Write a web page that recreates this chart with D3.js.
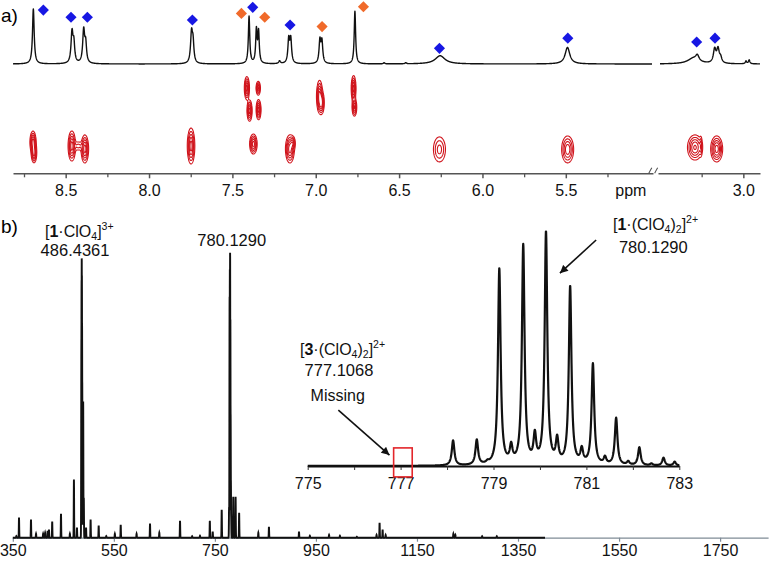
<!DOCTYPE html>
<html><head><meta charset="utf-8">
<script src="https://cdn.jsdelivr.net/npm/d3@7"></script>
<style>
html,body{margin:0;padding:0;background:#fff;}
svg{display:block;font-family:"Liberation Sans",Arial,Helvetica,sans-serif;}
</style></head><body>
<svg id="chart" width="784" height="565"></svg>
<script>
// ================= DATA =================
// (a) 1H NMR peaks: [ppm, relative height, half-width at half-height (ppm)]
const nmrPeaks = [
  [8.694, 1.00, 0.006],
  [8.462, 0.56, 0.007], [8.451, 0.33, 0.006],
  [8.392, 0.60, 0.007], [8.380, 0.33, 0.006],
  [7.745, 0.55, 0.007], [7.736, 0.33, 0.006],
  [7.400, 0.86, 0.005],
  [7.356, 0.60, 0.005], [7.343, 0.56, 0.005],
  [7.217, 0.05, 0.006],
  [7.162, 0.43, 0.006], [7.150, 0.43, 0.006],
  [6.975, 0.41, 0.006], [6.963, 0.39, 0.006],
  [6.765, 0.96, 0.005],
  [6.590, 0.02, 0.005], [6.460, 0.02, 0.005],
  [6.254, 0.15, 0.035],
  [5.490, 0.30, 0.017],
  [3.300, 0.10, 0.040], [3.276, 0.10, 0.012],
  [3.172, 0.25, 0.009], [3.152, 0.25, 0.009], [3.136, 0.09, 0.008],
  [2.984, 0.05, 0.005], [2.965, 0.07, 0.005]
];
// peak markers: ppm, level (relative height), species
const markerPpm     = [8.634, 8.468, 8.370, 7.740, 7.446, 7.378, 7.306, 7.154, 6.962, 6.714, 6.258, 5.488, 3.280, 3.170];
const markerLevel   = [0.98, 0.85, 0.85, 0.80, 0.92, 1.03, 0.85, 0.71, 0.68, 1.04, 0.285, 0.47, 0.40, 0.47];
const markerSpecies = ["B","B","B","B","O","B","O","B","O","O","B","B","B","B"];
// 2D (DOSY) cross peaks: [ppm, diffusion row, sigma ppm, sigma row, amplitude]
const dosyBlobs = [
  [7.413, 0.83, 0.0075, 0.115, 1.0], [7.397, 1.29, 0.0075, 0.105, 1.0],
  [7.345, 0.83, 0.0065, 0.070, 0.9], [7.343, 1.27, 0.0072, 0.100, 1.0],
  [6.977, 1.00, 0.0090, 0.160, 1.0], [6.965, 1.13, 0.0080, 0.110, 0.9],
  [6.773, 0.84, 0.0070, 0.130, 1.0], [6.768, 1.22, 0.0070, 0.090, 0.9],
  [8.696, 1.93, 0.0090, 0.109, 1.0], [8.690, 2.15, 0.0080, 0.099, 1.0],
  [8.463, 2.01, 0.0110, 0.149, 1.0], [8.385, 2.07, 0.0110, 0.139, 1.0],
  [8.424, 2.01, 0.0150, 0.060, 0.3],
  [7.748, 2.01, 0.0110, 0.178, 1.0],
  [7.374, 1.97, 0.0110, 0.099, 1.0],
  [7.155, 2.07, 0.0130, 0.139, 1.0], [7.138, 1.95, 0.0080, 0.070, 0.6],
  [6.258, 2.08, 0.0213, 0.151, 0.5],
  [5.489, 2.08, 0.0185, 0.141, 0.8],
  [3.290, 2.04, 0.0225, 0.128, 0.9], [3.255, 2.01, 0.0040, 0.105, 0.4],
  [3.160, 2.07, 0.0175, 0.129, 1.0]
];
const dosyLevels = [0.12, 0.25, 0.42, 0.62, 0.85];
const nmrMajorA = [8.5, 8.0, 7.5, 7.0, 6.5, 6.0, 5.5];
const nmrMinorA = [8.75, 8.25, 7.75, 7.25, 6.75, 6.25, 5.75, 5.25];
const nmrMajorB = [3.0];
const nmrMinorB = [3.25];

// (b) ESI-MS: [m/z, relative intensity %]
const msPeaks = [
  [357, 0.6], [362.3, 7.0], [386, 6.3], [396, 1.4], [410, 1.4], [414, 1.7], [419, 2.4], [421.6, 2.8],
  [428, 5.6], [445.4, 8.4], [463, 1.4], [471, 20.3], [477, 3.5],
  [485.77, 70], [486.10, 90], [486.44, 98.3], [486.77, 92], [487.10, 75], [487.44, 55], [487.77, 40],
  [489.3, 47.6], [490.5, 14], [495, 3.5], [504, 6.3], [520, 4.2], [535, 0.6], [552, 1.4], [563.6, 4.5],
  [595, 1.4], [621.6, 4.9], [640, 1.7], [681, 5.9], [705, 0.5], [720.5, 0.7], [740, 5.9], [745.7, 2.1],
  [763.5, 9.8], [778.13, 10.8], [778.64, 10.8], [779.125, 84.5], [779.64, 94.4], [780.13, 100],
  [780.65, 76.7], [781.14, 43.5], [781.64, 20.3], [782.14, 7.8],
  [786.4, 14.3], [791, 14.3], [798, 8.7], [836, 1.7], [857, 3.8], [916.5, 2.1], [938, 0.7],
  [976, 1.0], [997.5, 0.7], [1031, 0.35], [1070, 1.0], [1076, 5.2], [1082, 2.8], [1088, 1.0],
  [1222, 1.4], [1226, 1.0], [1279, 0.5], [1308, 0.5]
];
const msRange = [350, 1403.5];
const msTicks = [350, 550, 750, 950, 1150, 1350, 1550, 1750];
// inset: isotope pattern of [1·(ClO4)2]2+ : [m/z, relative intensity %]
const insetPeaks = [
  [778.13, 10.8], [778.64, 10.8], [778.87, 0.8], [779.125, 84.5], [779.38, 7], [779.64, 94.4],
  [779.89, 11.5], [780.13, 100], [780.37, 10], [780.65, 76.7], [780.90, 6], [781.14, 43.5],
  [781.40, 3], [781.64, 20.3], [781.90, 1.5], [782.14, 7.8], [782.40, 0.8], [782.66, 3.4], [782.90, 1.7]
];
const insetTicks = [775, 776, 777, 778, 779, 780, 781, 782, 783];
const insetLabels = [775, 777, 779, 781, 783];
const missingBox = {mz: [776.85, 777.25], inten: [-4.7, 7.8]};
const arrowInset = {from: [781.21, 97.4], to: [780.43, 83.1]};
const arrowMissing = {from: [775.66, 24.1], to: [776.76, 4.7]};

// ================= DRAWING =================
const FONT = '"Liberation Sans", Arial, Helvetica, sans-serif';
const svg = d3.select("#chart");
const BLUE = "#1717e3", ORANGE = "#f06a2a", RED = "#d0141c";

// ---- scales ----
const xA = d3.scaleLinear().domain([8.816, 4.977]).range([13, 653]);
const xB = d3.scaleLinear().domain([3.512, 2.900]).range([658, 760]);
const xN = p => p > 4 ? xA(p) : xB(p);
const yN = d3.scaleLinear().domain([0, 1]).range([64, 9]);
const yD = d3.scaleLinear().domain([0.5, 2.5]).range([72, 170]);
const nmrAxisY = 173.3;

const xM = d3.scaleLinear().domain([350, 1845]).range([12.8, 768.1]);
const yM = d3.scaleLinear().domain([0, 100]).range([537.7, 251.7]);
const xI = d3.scaleLinear().domain([775, 783]).range([307.7, 679.3]);
const yI = d3.scaleLinear().domain([0, 100]).range([466, 234]);

// ---- panel labels ----
svg.append("text").attr("x", 1).attr("y", 22).attr("font-size", 19).text("a)");
svg.append("text").attr("x", 1).attr("y", 233).attr("font-size", 19).text("b)");

function styleAxis(g, color, width, fs) {
  g.selectAll("path,line").attr("stroke", color).attr("stroke-width", width);
  g.selectAll("text").attr("font-size", fs).attr("font-family", FONT).attr("fill", "#111");
}

// ---- NMR axis ----
const gA = svg.append("g").attr("transform", `translate(0,${nmrAxisY})`)
  .call(d3.axisBottom(xA).tickValues(nmrMajorA).tickFormat(d3.format(".1f")).tickSize(5).tickSizeOuter(0).tickPadding(6));
styleAxis(gA, "#555", 1.5, 16);
const gAm = svg.append("g").attr("transform", `translate(0,${nmrAxisY})`)
  .call(d3.axisBottom(xA).tickValues(nmrMinorA).tickFormat("").tickSize(4).tickSizeOuter(0));
gAm.select(".domain").remove(); styleAxis(gAm, "#555", 1.3, 16);
const gB = svg.append("g").attr("transform", `translate(0,${nmrAxisY})`)
  .call(d3.axisBottom(xB).tickValues(nmrMajorB).tickFormat(d3.format(".1f")).tickSize(5).tickSizeOuter(0).tickPadding(6));
styleAxis(gB, "#555", 1.5, 16);
const gBm = svg.append("g").attr("transform", `translate(0,${nmrAxisY})`)
  .call(d3.axisBottom(xB).tickValues(nmrMinorB).tickFormat("").tickSize(4).tickSizeOuter(0));
gBm.select(".domain").remove(); styleAxis(gBm, "#555", 1.3, 16);
svg.append("text").attr("x", xA(5.11)).attr("y", 196).attr("text-anchor", "middle")
  .attr("font-size", 16).attr("fill", "#111").text("ppm");
// axis break marks
[xA(4.99), xB(3.52)].forEach(bx => {
  svg.append("path").attr("d", `M${bx - 2},${nmrAxisY} q1.5,-3 3,-5.5`).attr("fill", "none")
    .attr("stroke", "#555").attr("stroke-width", 1.1);
});

// ---- 1D NMR spectrum ----
function nmrI(p) { let s = 0; for (const [c, h, g] of nmrPeaks) { const d = (p - c) / g; s += h / (1 + d * d); } return s; }
const nmrLine = d3.line().x(p => xN(p)).y(p => yN(nmrI(p)));
[d3.range(4.983, 8.816, 0.001), d3.range(2.900, 3.500, 0.001)].forEach(seg => {
  svg.append("path").attr("d", nmrLine(seg.reverse())).attr("fill", "none")
    .attr("stroke", "#111").attr("stroke-width", 1.4).attr("stroke-linejoin", "round");
});
// markers
const sym = d3.symbol().type(d3.symbolSquare).size(62);
svg.append("g").selectAll("path").data(markerPpm).join("path")
  .attr("d", sym)
  .attr("transform", (p, i) => `translate(${xN(p)},${yN(markerLevel[i])}) rotate(45)`)
  .attr("fill", (p, i) => markerSpecies[i] === "B" ? BLUE : ORANGE);

// ---- 2D DOSY contours ----
const res = 2, gx0 = 8, gx1 = 766, gy0 = 62, gy1 = 172;
const gw = (gx1 - gx0) * res, gh = (gy1 - gy0) * res;
const grid = new Float64Array(gw * gh);
dosyBlobs.forEach(([p, r, sp, sr, amp]) => {
  const cx = xN(p), cy = yD(r);
  const sx = Math.abs(xN(p + sp) - cx), sy = Math.abs(yD(r + sr) - cy);
  const i0 = Math.max(0, Math.floor((cx - 4 * sx - gx0) * res)), i1 = Math.min(gw - 1, Math.ceil((cx + 4 * sx - gx0) * res));
  const j0 = Math.max(0, Math.floor((cy - 4 * sy - gy0) * res)), j1 = Math.min(gh - 1, Math.ceil((cy + 4 * sy - gy0) * res));
  for (let j = j0; j <= j1; j++) {
    const py = gy0 + (j + 0.5) / res, dy = (py - cy) / sy;
    for (let i = i0; i <= i1; i++) {
      const px = gx0 + (i + 0.5) / res, dx = (px - cx) / sx;
      grid[j * gw + i] += amp * Math.exp(-0.5 * (dx * dx + dy * dy));
    }
  }
});
const contours = d3.contours().size([gw, gh]).thresholds(dosyLevels)(grid);
const gridProj = d3.geoTransform({ point(x, y) { this.stream.point(gx0 + x / res, gy0 + y / res); } });
svg.append("g").selectAll("path").data(contours).join("path")
  .attr("d", d3.geoPath(gridProj)).attr("fill", "none").attr("stroke", RED).attr("stroke-width", 1.1);

// ---- MS main axis ----
const gM = svg.append("g").attr("transform", `translate(0,${yM(0)})`)
  .call(d3.axisBottom(xM).tickValues(msTicks).tickFormat(d3.format("d")).tickSize(4).tickSizeOuter(0).tickPadding(3));
styleAxis(gM, "#7f8b96", 1.2, 16);

// ---- MS spectrum ----
const msSig = 0.35;
function msI(m) { let s = 0; for (const [c, h] of msPeaks) { const d = (m - c) / msSig; if (Math.abs(d) < 6) s = Math.max(s, h * Math.exp(-0.5 * d * d)); } return s; }
const msLine = d3.line().x(m => xM(m)).y(m => yM(msI(m)));
svg.append("path").attr("d", msLine(d3.range(msRange[0], msRange[1], 0.1)))
  .attr("fill", "none").attr("stroke", "#111").attr("stroke-width", 1.9).attr("stroke-linejoin", "miter");

// ---- inset axis ----
const gI = svg.append("g").attr("transform", `translate(0,${yI(0)})`)
  .call(d3.axisBottom(xI).tickValues(insetTicks).tickFormat(d => insetLabels.includes(d) ? d : "").tickSize(4).tickSizeOuter(0).tickPadding(8));
styleAxis(gI, "#111", 1.8, 16);
gI.selectAll(".tick line").attr("stroke-width", 1).attr("stroke", "#333");

// ---- inset spectrum ----
const insetG = 0.034;
function inI(m) { let s = 0; for (const [c, h] of insetPeaks) { const d = (m - c) / insetG; s += h / (1 + d * d); } return s; }
const inLine = d3.line().x(m => xI(m)).y(m => yI(inI(m)));
svg.append("path").attr("d", inLine(d3.range(775, 783.0001, 0.004)))
  .attr("fill", "none").attr("stroke", "#111").attr("stroke-width", 2.2).attr("stroke-linejoin", "round");

// missing box
svg.append("rect")
  .attr("x", xI(missingBox.mz[0])).attr("width", xI(missingBox.mz[1]) - xI(missingBox.mz[0]))
  .attr("y", yI(missingBox.inten[1])).attr("height", yI(missingBox.inten[0]) - yI(missingBox.inten[1]))
  .attr("fill", "none").attr("stroke", "#e3262b").attr("stroke-width", 1.6);

// arrows
const defs = svg.append("defs");
defs.append("marker").attr("id", "ah").attr("viewBox", "0 0 10 10").attr("refX", 10).attr("refY", 5)
  .attr("markerWidth", 9).attr("markerHeight", 8).attr("markerUnits", "userSpaceOnUse").attr("orient", "auto")
  .append("path").attr("d", "M0,0L10,5L0,10z").attr("fill", "#111");
[arrowInset, arrowMissing].forEach(a => {
  svg.append("line")
    .attr("x1", xI(a.from[0])).attr("y1", yI(a.from[1]))
    .attr("x2", xI(a.to[0])).attr("y2", yI(a.to[1]))
    .attr("stroke", "#111").attr("stroke-width", 1.6).attr("marker-end", "url(#ah)");
});

// ---- text annotations ----
function rich(x, y, parts, anchor, size) {
  const t = svg.append("text").attr("x", x).attr("y", y).attr("font-size", size)
    .attr("text-anchor", anchor).attr("fill", "#111");
  let shift = 0;
  parts.forEach(p => {
    const target = p.sub ? 2.5 : p.sup ? -7 : 0;
    const ts = t.append("tspan").text(p.t).attr("dy", target - shift);
    shift = target;
    if (p.sub || p.sup) ts.attr("font-size", size * 0.66);
    if (p.bold) ts.attr("font-weight", "bold");
  });
  return t;
}
rich(45, 237, [{t: "["}, {t: "1", bold: true}, {t: "·ClO"}, {t: "4", sub: true}, {t: "]"}, {t: "3+", sup: true}], "start", 16);
svg.append("text").attr("x", xM(486.4361) - 6.7).attr("y", 256).attr("text-anchor", "middle")
  .attr("font-size", 16.5).attr("fill", "#111").text("486.4361");
svg.append("text").attr("x", xM(780.129) + 1.6).attr("y", 246).attr("text-anchor", "middle")
  .attr("font-size", 16.5).attr("fill", "#111").text("780.1290");
rich(613, 230, [{t: "["}, {t: "1", bold: true}, {t: "·(ClO"}, {t: "4", sub: true}, {t: ")"}, {t: "2", sub: true}, {t: "]"}, {t: "2+", sup: true}], "start", 16);
svg.append("text").attr("x", 653.3).attr("y", 253).attr("text-anchor", "middle")
  .attr("font-size", 16.5).attr("fill", "#111").text("780.1290");
rich(300, 355, [{t: "["}, {t: "3", bold: true}, {t: "·(ClO"}, {t: "4", sub: true}, {t: ")"}, {t: "2", sub: true}, {t: "]"}, {t: "2+", sup: true}], "start", 16);
svg.append("text").attr("x", 339).attr("y", 376).attr("text-anchor", "middle")
  .attr("font-size", 16.5).attr("fill", "#111").text("777.1068");
svg.append("text").attr("x", 337.7).attr("y", 400.5).attr("text-anchor", "middle")
  .attr("font-size", 16).attr("fill", "#111").text("Missing");
</script>
</body></html>
